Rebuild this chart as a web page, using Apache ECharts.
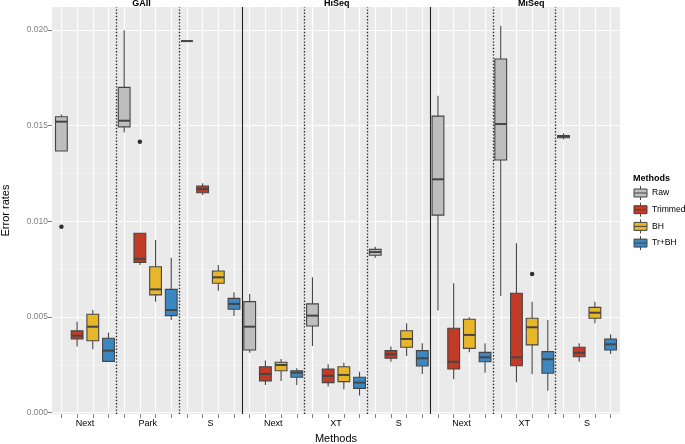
<!DOCTYPE html>
<html>
<head>
<meta charset="utf-8">
<script src="https://cdn.jsdelivr.net/npm/echarts@6/dist/echarts.min.js"></script>
<style>html,body{margin:0;padding:0;background:#fff}#c{width:685px;height:444px}</style>
</head>
<body>
<div id="c"></div>
<script>
// ---- data ----
const platforms = ['GAII', 'HiSeq', 'MiSeq'];
const platformLabelPos = [6.1, 18.55, 30.95];
const groups = ['Next', 'Park', 'S', 'Next', 'XT', 'S', 'Next', 'XT', 'S'];
const methods = ['Raw', 'Trimmed', 'BH', 'Tr+BH'];
const methodColors = ['#BEBEBE', '#C13B27', '#E7B629', '#3C87C0'];
const yTicks = [0, 0.005, 0.010, 0.015, 0.020];
const yMinorTicks = [0.0025, 0.0075, 0.0125, 0.0175];

// [min, Q1, median, Q3, max] per group
const raw = [
  [0.01367, 0.01367, 0.01520, 0.01546, 0.01557],
  [0.01464, 0.01493, 0.01525, 0.01699, 0.01998],
  [0.01941, 0.01941, 0.01941, 0.01941, 0.01941],
  [0.00313, 0.00327, 0.00449, 0.00580, 0.00620],
  [0.00348, 0.00453, 0.00507, 0.00568, 0.00707],
  [0.00809, 0.00822, 0.00839, 0.00853, 0.00867],
  [0.00533, 0.01032, 0.01219, 0.01549, 0.01655],
  [0.00609, 0.01320, 0.01508, 0.01847, 0.02021],
  [0.01428, 0.01436, 0.01443, 0.01448, 0.01459]
];
const trimmed = [
  [0.00345, 0.00385, 0.00402, 0.00427, 0.00475],
  [0.00771, 0.00785, 0.00803, 0.00937, 0.00937],
  [0.01137, 0.01149, 0.01168, 0.01184, 0.01198],
  [0.00145, 0.00166, 0.00202, 0.00240, 0.00272],
  [0.00136, 0.00157, 0.00192, 0.00228, 0.00253],
  [0.00266, 0.00284, 0.00305, 0.00324, 0.00345],
  [0.00174, 0.00228, 0.00266, 0.00441, 0.00676],
  [0.00159, 0.00245, 0.00289, 0.00624, 0.00885],
  [0.00266, 0.00292, 0.00313, 0.00342, 0.00362]
];
const bh = [
  [0.00331, 0.00376, 0.00449, 0.00514, 0.00536],
  [0.00580, 0.00615, 0.00644, 0.00762, 0.00902],
  [0.00637, 0.00676, 0.00707, 0.00740, 0.00771],
  [0.00166, 0.00219, 0.00249, 0.00263, 0.00280],
  [0.00122, 0.00162, 0.00197, 0.00240, 0.00261],
  [0.00296, 0.00342, 0.00385, 0.00428, 0.00467],
  [0.00315, 0.00336, 0.00406, 0.00488, 0.00498],
  [0.00201, 0.00354, 0.00446, 0.00493, 0.00580],
  [0.00467, 0.00493, 0.00522, 0.00550, 0.00580]
];
const trbh = [
  [0.00268, 0.00268, 0.00324, 0.00389, 0.00418],
  [0.00484, 0.00507, 0.00536, 0.00644, 0.00809],
  [0.00505, 0.00540, 0.00568, 0.00597, 0.00629],
  [0.00145, 0.00185, 0.00209, 0.00219, 0.00232],
  [0.00089, 0.00127, 0.00157, 0.00185, 0.00214],
  [0.00202, 0.00244, 0.00284, 0.00324, 0.00362],
  [0.00209, 0.00266, 0.00289, 0.00315, 0.00362],
  [0.00115, 0.00206, 0.00279, 0.00319, 0.00484],
  [0.00307, 0.00327, 0.00357, 0.00385, 0.00409]
];
// [methodIndex, groupIndex, value]
const outliers = [
  [0, 0, 0.00971],
  [1, 1, 0.01415],
  [2, 7, 0.00724]
];

// ---- build ----
const boxes = [raw, trimmed, bh, trbh];
const nM = methods.length;
const nSlots = groups.length * nM;
const slotOf = (g, m) => g * nM + m + 1;
const xTicks = [];
for (let i = 1; i <= nSlots; i++) xTicks.push(i);
const groupCenters = groups.map((_, g) => g * nM + (nM + 1) / 2);
const separators = [];
for (let g = 1; g < groups.length; g++) separators.push({ pos: g * nM + 0.5, solid: g % 3 === 0 });

const FONT = 'Liberation Sans, Arial, sans-serif';
const STROKE = '#454545';
const BOX_W = 0.75;

const boxSeries = methods.map((name, m) => ({
  type: 'custom',
  name: name,
  xAxisIndex: 0, yAxisIndex: 0,
  itemStyle: { color: methodColors[m], borderColor: STROKE, borderWidth: 1 },
  encode: { x: 0, y: [1, 2, 3, 4, 5] },
  data: boxes[m].map((b, g) => [slotOf(g, m)].concat(b)),
  renderItem: function (params, api) {
    const x = api.value(0);
    const lo = api.coord([x, api.value(1)]);
    const q1 = api.coord([x, api.value(2)]);
    const md = api.coord([x, api.value(3)]);
    const q3 = api.coord([x, api.value(4)]);
    const hi = api.coord([x, api.value(5)]);
    const w = api.size([BOX_W, 0])[0];
    const fill = api.visual('color');
    const ls = { stroke: STROKE, lineWidth: 1.1 };
    return {
      type: 'group',
      children: [
        { type: 'line', shape: { x1: lo[0], y1: lo[1], x2: q1[0], y2: q1[1] }, style: ls },
        { type: 'line', shape: { x1: q3[0], y1: q3[1], x2: hi[0], y2: hi[1] }, style: ls },
        { type: 'rect', shape: { x: q3[0] - w / 2, y: q3[1], width: w, height: q1[1] - q3[1] },
          style: { fill: fill, stroke: STROKE, lineWidth: 1.1 } },
        { type: 'line', shape: { x1: md[0] - w / 2, y1: md[1], x2: md[0] + w / 2, y2: md[1] },
          style: { stroke: STROKE, lineWidth: 2 } }
      ]
    };
  }
}));

const option = {
  animation: false,
  backgroundColor: '#ffffff',
  textStyle: { fontFamily: FONT },
  title: {
    text: 'Methods', left: 633, top: 174, padding: 0,
    textStyle: { fontSize: 9, fontWeight: 'bold', color: '#000', fontFamily: FONT }
  },
  legend: {
    data: methods,
    orient: 'vertical',
    left: 633.5, top: 185.5, padding: 0,
    itemWidth: 13, itemHeight: 14, itemGap: 1.7,
    icon: 'path://M6.5 0 L6.5 3 M0 3 L13 3 L13 11 L0 11 Z M0 7 L13 7 M6.5 11 L6.5 14',
    itemStyle: { borderColor: STROKE, borderWidth: 1 },
    textStyle: { fontSize: 8.6, color: '#000', fontFamily: FONT },
    selectedMode: false
  },
  grid: {
    left: 52, right: 65, top: 7, bottom: 30,
    containLabel: false, outerBoundsMode: 'none',
    show: true, backgroundColor: '#EAEAEA', borderWidth: 0
  },
  xAxis: [
    {
      type: 'value', min: 0.4, max: nSlots + 0.6, position: 'bottom',
      name: 'Methods', nameLocation: 'middle', nameGap: 19,
      nameTextStyle: { fontSize: 11, color: '#000', fontFamily: FONT },
      axisLine: { show: false, onZero: false },
      axisTick: { show: true, length: 4, customValues: xTicks, lineStyle: { color: '#7f7f7f', width: 1 } },
      splitLine: { show: true, lineStyle: { color: '#ffffff', width: 1.2 } },
      axisLabel: {
        customValues: groupCenters, margin: 5, fontSize: 9, color: '#000', fontFamily: FONT,
        formatter: v => groups[Math.round((v - (nM + 1) / 2) / nM)]
      }
    },
    {
      type: 'value', min: 0.4, max: nSlots + 0.6, position: 'top',
      axisLine: { show: false, onZero: false },
      axisTick: { show: false },
      splitLine: { show: false },
      axisLabel: {
        customValues: platformLabelPos, margin: -1, fontSize: 9, fontWeight: 'bold', color: '#000', fontFamily: FONT,
        formatter: v => platforms[platformLabelPos.indexOf(v)]
      }
    }
  ],
  yAxis: [
    {
      type: 'value', min: -0.00007, max: 0.02119, position: 'left',
      name: 'Error rates', nameLocation: 'middle', nameGap: 41,
      nameTextStyle: { fontSize: 11, color: '#000', fontFamily: FONT },
      axisLine: { show: false, onZero: false },
      axisTick: { show: true, length: 4, customValues: yTicks, lineStyle: { color: '#7f7f7f', width: 1 } },
      splitLine: { show: true, lineStyle: { color: '#ffffff', width: 1.2 } },
      axisLabel: {
        customValues: yTicks, margin: 4, fontSize: 8.5, color: '#7f7f7f', fontFamily: FONT,
        formatter: v => v.toFixed(3)
      },
      z: 1
    },
    {
      type: 'value', min: -0.00007, max: 0.02119, position: 'left',
      axisLine: { show: false, onZero: false },
      axisTick: { show: false, customValues: yMinorTicks },
      splitLine: { show: true, lineStyle: { color: '#F4F4F4', width: 0.6 } },
      axisLabel: { show: false },
      z: 0
    }
  ],
  series: boxSeries.concat([{
    type: 'scatter',
    name: 'outliers',
    xAxisIndex: 0, yAxisIndex: 0,
    symbolSize: 4.5,
    itemStyle: { color: '#000' },
    data: outliers.map(o => [slotOf(o[1], o[0]), o[2]]),
    markLine: {
      silent: true,
      symbol: ['none', 'none'],
      label: { show: false },
      data: separators.map(s => ({
        xAxis: s.pos,
        lineStyle: { color: '#222', width: s.solid ? 1.1 : 1.3, type: s.solid ? 'solid' : [1.4, 1.8] }
      }))
    }
  }])
};

const chart = echarts.init(document.getElementById('c'), null, { renderer: 'canvas' });
chart.setOption(option);
</script>
</body>
</html>
